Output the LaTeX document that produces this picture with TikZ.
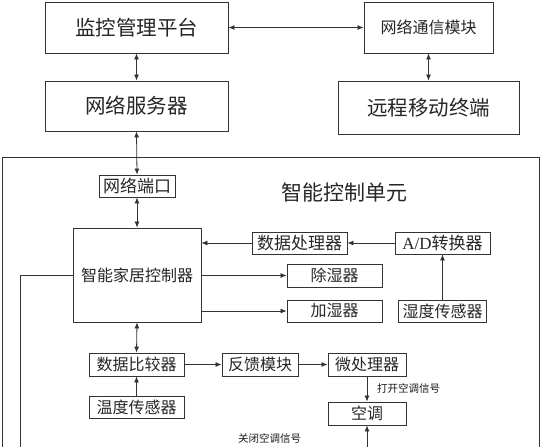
\documentclass[tikz,border=0pt]{standalone}
\usepackage{fontspec}
\setmainfont{Liberation Serif}
\newfontfamily\cjk{Noto Sans CJK SC}
\usetikzlibrary{arrows,arrows.meta,positioning,calc}
\tikzset{
	blk/.style={draw=black!80, line width=0.9pt, inner sep=0pt, text=black!85, font=\cjk\fontsize{16}{16}\selectfont},
	bigblk/.style={blk, font=\cjk\fontsize{20.5}{21}\selectfont},
	sig/.style={inner sep=0pt, text=black!90, font=\cjk\fontsize{10.5}{11}\selectfont},
	lnk/.style={draw=black!80, line width=0.8pt}
}

\begin{document}
\begin{tikzpicture}[x=1pt, y=-1pt, >={Latex[length=6pt,width=5pt]}]
			\useasboundingbox (0,0) rectangle (545,447);
			
			\node[bigblk, minimum width=183pt, minimum height=51pt] (plat) at (136.5,27.5) {监控管理平台};
			\node[blk, minimum width=129pt, minimum height=51pt] (comm) at (428.5,27.5) {网络通信模块};
			\node[bigblk, minimum width=183pt, minimum height=50pt] (server) at (136.5,106) {网络服务器};
			\node[bigblk, minimum width=181pt, minimum height=53pt] (mobile) at (428.5,107.5) {远程移动终端};
			
			\draw[lnk] (2.5,447) -- (2.5,157) -- (539,157) -- (539,447);
			\node[font=\cjk\fontsize{21}{21}\selectfont, text=black!85] (unit) at (344,192) {智能控制单元};
			
			\node[blk, font=\cjk\fontsize{17}{17}\selectfont, minimum width=76pt, minimum height=22pt] (port) at (137,186) {网络端口};
			\node[blk, minimum width=128pt, minimum height=94pt] (home) at (137,275) {智能家居控制器};
			\node[blk, font=\cjk\fontsize{17}{17}\selectfont, minimum width=95pt, minimum height=22pt] (dproc) at (299.5,243) {数据处理器};
			\node[blk, font=\cjk\fontsize{17}{17}\selectfont, minimum width=95pt, minimum height=22pt] (adconv) at (442.5,243) {\textrm{A/D}转换器};
			\node[blk, minimum width=95pt, minimum height=23pt] (dehum) at (334.5,275.5) {除湿器};
			\node[blk, minimum width=95pt, minimum height=22pt] (hum) at (334.5,311) {加湿器};
			\node[blk, minimum width=88pt, minimum height=22pt] (hsens) at (442.5,311) {湿度传感器};
			
			\node[blk, minimum width=95pt, minimum height=23pt] (comp) at (136.5,364.5) {数据比较器};
			\node[blk, minimum width=95pt, minimum height=22pt] (tsens) at (136.5,407) {温度传感器};
			\node[blk, minimum width=76pt, minimum height=23pt] (fb) at (260,364.5) {反馈模块};
			\node[blk, minimum width=78pt, minimum height=23pt] (mcu) at (367,364.5) {微处理器};
			\node[blk, minimum width=78pt, minimum height=23pt] (ac) at (367,413.5) {空调};
			
			\node[sig, anchor=west] (onsig) at (377,388) {打开空调信号};
			\node[sig] (offsig) at (269.5,438) {关闭空调信号};
			
			\coordinate (acin) at (367,447);
			\coordinate (back) at (20,447);
			
			\draw[lnk, <->] (plat.east) -- (comm.west);
			\draw[lnk, <->] (plat.south) -- (server.north);
			\draw[lnk, <->] (comm.south) -- (mobile.north);
			\draw[lnk, <->] (server.south) -- (port.north);
			\draw[lnk, <->] (port.south) -- (home.north);
			\draw[lnk, ->] (dproc.west) -- (dproc.west -| home.east);
			\draw[lnk, ->] (adconv.west) -- (dproc.east);
			\draw[lnk, ->] (hsens.north) -- (adconv.south);
			\draw[lnk, ->] (dehum.west -| home.east) -- (dehum.west);
			\draw[lnk, ->] (hum.west -| home.east) -- (hum.west);
			\draw[lnk, <->] (home.south) -- (comp.north);
			\draw[lnk, ->] (tsens.north) -- (comp.south);
			\draw[lnk, ->] (comp.east) -- (fb.west);
			\draw[lnk, ->] (fb.east) -- (mcu.west);
			\draw[lnk, ->] (mcu.south) -- (ac.north);
			\draw[lnk, ->] (acin) -- (ac.south);
			\draw[lnk] (home.west) -| (back);
		\end{tikzpicture}
\end{document}
